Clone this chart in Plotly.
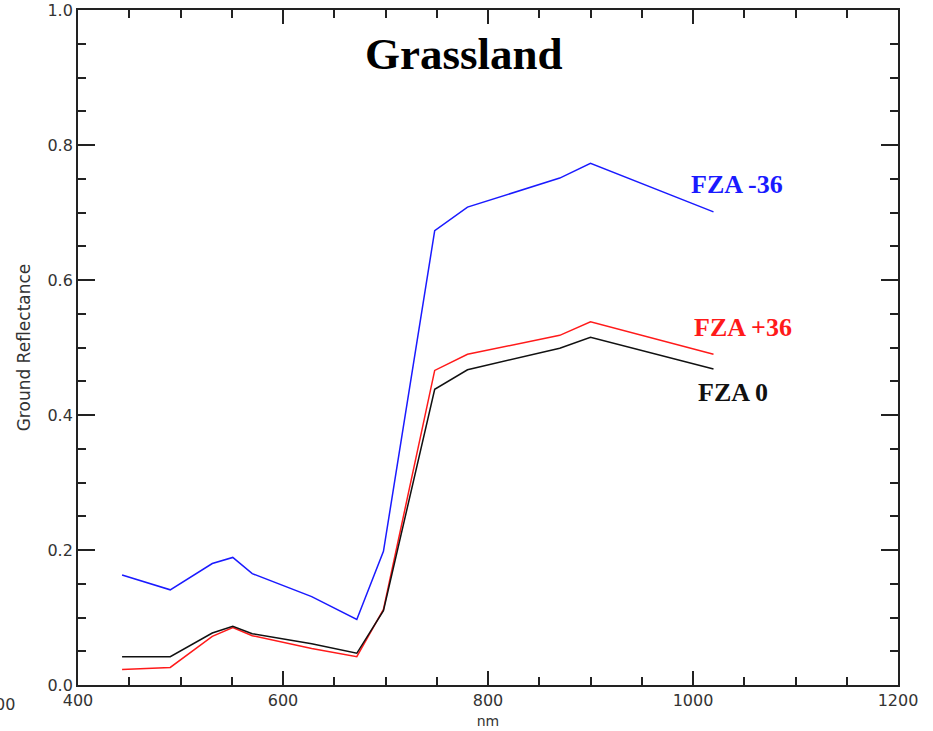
import plotly.graph_objects as go

# Band centre wavelengths (nm)
wavelength = [443, 490, 531, 551, 570, 628, 672, 698, 748, 780, 870, 900, 1020]

# Ground reflectance for each forward zenith angle
refl_fza_m36 = [0.163, 0.141, 0.180, 0.189, 0.165, 0.131, 0.097, 0.198, 0.673, 0.708, 0.751, 0.773, 0.701]
refl_fza_p36 = [0.023, 0.026, 0.072, 0.085, 0.073, 0.054, 0.042, 0.112, 0.466, 0.490, 0.518, 0.538, 0.490]
refl_fza_0 = [0.042, 0.042, 0.077, 0.087, 0.076, 0.061, 0.047, 0.110, 0.438, 0.467, 0.499, 0.515, 0.468]

series_names = ["FZA -36", "FZA +36", "FZA 0"]
series_colors = ["#1a1aff", "#ff1a1a", "#111111"]

x_ticks = [400, 600, 800, 1000, 1200]
y_ticks = [0.0, 0.2, 0.4, 0.6, 0.8, 1.0]

fig = go.Figure()
for vals, name, color in zip([refl_fza_m36, refl_fza_p36, refl_fza_0], series_names, series_colors):
    fig.add_trace(go.Scatter(x=wavelength, y=vals, mode="lines", name=name,
                             line=dict(color=color, width=1.5), showlegend=False))

sans = "DejaVu Sans, Verdana, sans-serif"

axis_common = dict(
    showline=True, linecolor="#222", linewidth=1.8, mirror="allticks",
    ticks="inside", tickcolor="#222", tickwidth=1.6,
    showgrid=False, zeroline=False, automargin=False,
    tickfont=dict(family=sans, size=16, color="#333"),
)

fig.update_xaxes(range=[400, 1200], tickvals=x_ticks, ticktext=[str(v) for v in x_ticks],
                 ticklen=14,
                 minor=dict(dtick=50, ticks="inside", ticklen=8, tickcolor="#222", tickwidth=1.6, showgrid=False),
                 title=dict(text="nm", font=dict(family=sans, size=14, color="#333"), standoff=7),
                 **axis_common)
fig.update_yaxes(range=[0, 1.0], tickvals=y_ticks, ticktext=[f"{v:.1f}" for v in y_ticks],
                 ticklen=17,
                 minor=dict(dtick=0.05, ticks="inside", ticklen=8, tickcolor="#222", tickwidth=1.6, showgrid=False),
                 title=dict(text="Ground Reflectance", font=dict(family=sans, size=17, color="#333"),
                            standoff=12),
                 **axis_common)

serif_bold = "Liberation Serif, Times New Roman, serif"

annotations = [
    dict(text="<b>Grassland</b>", xref="paper", yref="paper", x=0.471, y=0.935,
         xanchor="center", yanchor="middle", showarrow=False,
         font=dict(family=serif_bold, size=45, color="#000")),
    dict(text="<b>FZA -36</b>", x=996, y=0.741, xanchor="left", yanchor="middle", showarrow=False,
         font=dict(family=serif_bold, size=26, color=series_colors[0])),
    dict(text="<b>FZA +36</b>", x=999, y=0.530, xanchor="left", yanchor="middle", showarrow=False,
         font=dict(family=serif_bold, size=26, color=series_colors[1])),
    dict(text="<b>FZA 0</b>", x=1003, y=0.433, xanchor="left", yanchor="middle", showarrow=False,
         font=dict(family=serif_bold, size=26, color=series_colors[2])),
    dict(text="00", xref="paper", yref="paper", x=-0.0744, y=-0.012,
         xanchor="right", yanchor="top", showarrow=False,
         font=dict(family=sans, size=16, color="#333")),
]

fig.update_layout(
    width=933, height=731,
    margin=dict(l=78, r=35, t=10, b=46),
    paper_bgcolor="white", plot_bgcolor="white",
    annotations=annotations,
)

fig.write_html("out.html")
